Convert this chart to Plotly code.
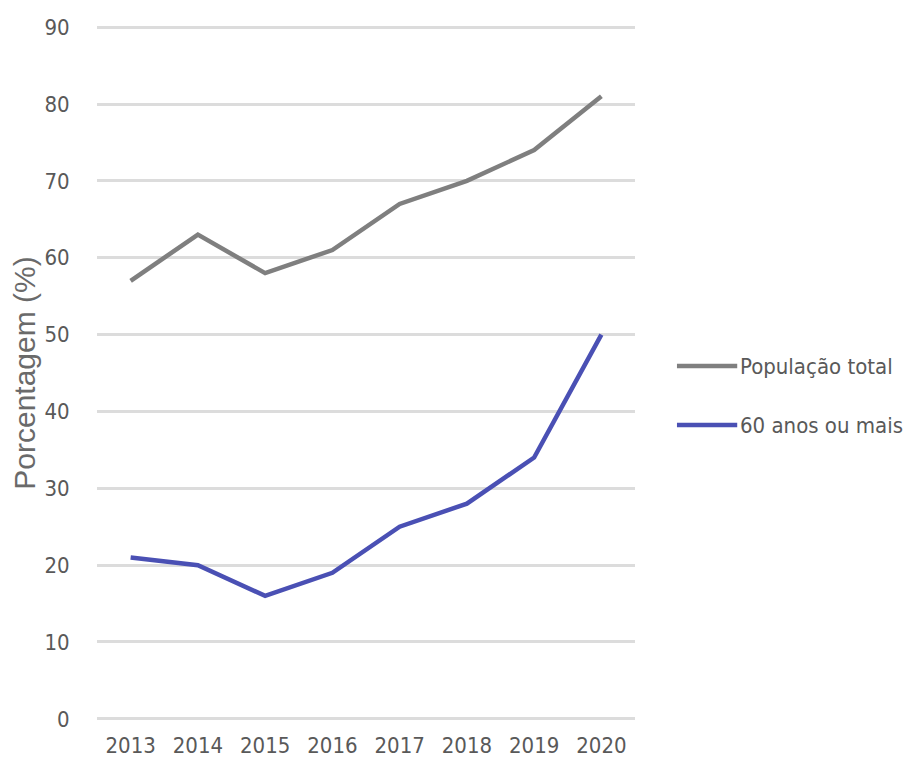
import plotly.graph_objects as go

years = ["2013", "2014", "2015", "2016", "2017", "2018", "2019", "2020"]
pop_total = [57, 63, 58, 61, 67, 70, 74, 81]
idosos = [21, 20, 16, 19, 25, 28, 34, 50]
series_names = ["População total", "60 anos ou mais"]
series_colors = ["#7f7f7f", "#4a50b4"]
y_ticks = [0, 10, 20, 30, 40, 50, 60, 70, 80, 90]

FONT = "DejaVu Sans Condensed, Liberation Sans Narrow, Arial Narrow, sans-serif"

fig = go.Figure()
for vals, name, col in zip([pop_total, idosos], series_names, series_colors):
    fig.add_trace(go.Scatter(x=years, y=vals, mode="lines", name=name,
                             line=dict(color=col, width=4.5), showlegend=False))

# manual legend
leg_y = [0.510, 0.425]
for name, col, yy in zip(series_names, series_colors, leg_y):
    fig.add_shape(type="line", xref="paper", yref="paper", x0=1.078, x1=1.19, y0=yy, y1=yy,
                  line=dict(color=col, width=4.5))
    fig.add_annotation(xref="paper", yref="paper", x=1.192, y=yy, text=name, showarrow=False,
                       xanchor="left", yanchor="middle",
                       font=dict(family=FONT, size=22, color="#595959"))

fig.update_layout(
    width=911, height=771,
    margin=dict(l=89, r=284, t=18, b=59, autoexpand=False),
    paper_bgcolor="white", plot_bgcolor="white",
    font=dict(family=FONT, color="#595959"),
    xaxis=dict(type="category", range=[-0.5, 7.5], showgrid=False, showline=False,
               ticks="outside", ticklen=6, tickcolor="rgba(0,0,0,0)", automargin=False,
               tickfont=dict(size=22, color="#595959"), zeroline=False),
    yaxis=dict(range=[-0.15, 90.15], tickvals=y_ticks, showgrid=True, gridcolor="#dcdcdc", gridwidth=2.5,
               zeroline=False, showline=False, ticks="outside", ticklen=22, automargin=False,
               tickcolor="rgba(0,0,0,0)", tickfont=dict(size=22, color="#595959"),
               title=dict(text="Porcentagem (%)", standoff=8,
                          font=dict(family="Liberation Sans, Arial, sans-serif", size=30, color="#6a6a6a"))),
)

fig.write_html("out.html")
